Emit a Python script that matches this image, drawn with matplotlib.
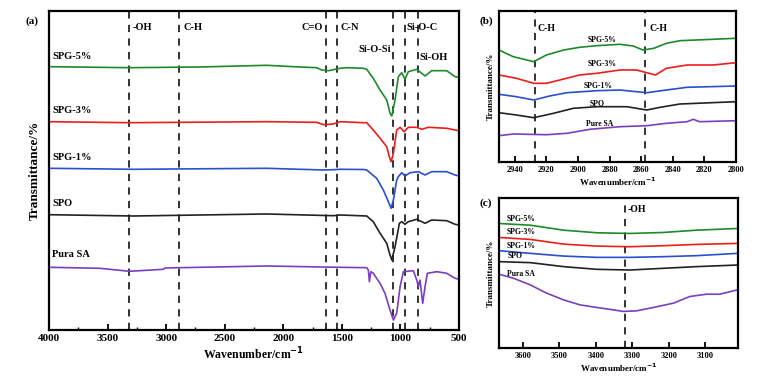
import matplotlib
matplotlib.use("Agg")
import matplotlib.pyplot as plt
from matplotlib.ticker import MultipleLocator

plt.rcParams['font.family'] = ['Liberation Serif', 'DejaVu Serif']
plt.rcParams['font.weight'] = 'bold'

# ---------------- Panel (a) data ----------------
a_names = ["SPG-5%", "SPG-3%", "SPG-1%", "SPO", "Pura SA"]
a_colors = ["#1f8a2a", "#ee1c1c", "#2a4fd0", "#222222", "#7a3fc0"]

a_w_green = [4000, 3314, 2711, 2142, 1857, 1715, 1672, 1615, 1559, 1516, 1459, 1317, 1288, 1232, 1174, 1117,
             1089, 1074, 1046, 1018, 989, 961, 933, 861, 790, 733, 605, 534, 500]
a_v_green = [263.3, 262.3, 263, 264.7, 263, 262.3, 260, 259.3, 260.7, 261.7, 262.3, 261.7, 260.7, 251.7, 240, 230,
             216.7, 214, 230, 253.3, 257.3, 250.7, 258.3, 260.7, 254, 259.3, 259.3, 253.3, 252.7]

a_w_red = [4000, 3314, 2142, 1715, 1658, 1573, 1516, 1317, 1288, 1232, 1174, 1117, 1095, 1080, 1060, 1032,
           1003, 969, 933, 861, 818, 762, 605, 534, 500]
a_v_red = [208.3, 207.3, 208.3, 207.7, 205.3, 206, 208.3, 207.3, 207.3, 200, 191.7, 183.3, 173.3, 168.3, 176.7, 200,
           202.7, 198.3, 202.7, 202.7, 200.7, 202.7, 201.7, 200, 199.3]

a_w_blue = [4000, 3280, 2142, 1658, 1573, 1516, 1317, 1288, 1203, 1146, 1103, 1080, 1060, 1032, 1018, 989,
            961, 918, 847, 790, 733, 605, 534, 500]
a_v_blue = [161.7, 160.7, 161.7, 160, 160.3, 160.7, 160.5, 160, 151.7, 140, 128.3, 121.7, 130, 150, 153.3, 157.3,
            154, 157.3, 158.3, 155, 158.3, 158.3, 155, 154]

a_w_black = [4000, 3280, 2142, 1573, 1516, 1288, 1232, 1174, 1117, 1089, 1074, 1046, 1009, 989, 961, 933,
             861, 790, 733, 605, 534, 500]
a_v_black = [115.3, 114, 116, 114.3, 115, 114, 108.3, 96.7, 86.7, 75, 70, 83.3, 106.7, 108.3, 105.7, 108.3,
             110.7, 106.7, 110, 109.3, 105.7, 105]

a_w_purple = [4000, 3565, 3314, 3024, 3010, 2142, 1516, 1288, 1274, 1265, 1253, 1232, 1174, 1132, 1089, 1060,
              1032, 1003, 975, 890, 861, 847, 833, 810, 790, 770, 690, 605, 534, 500]
a_v_purple = [62.7, 61.7, 58.7, 60.7, 62, 64, 62.7, 62.3, 60, 48.3, 58.3, 56.7, 46.7, 36.7, 20, 10,
              16.7, 43.3, 58.3, 59.3, 50, 43.3, 50, 26.7, 43.3, 56.7, 58.3, 56.7, 51.7, 50.7]

a_dash = [3315, 2890, 1635, 1544, 1066, 964, 853]
a_band_labels = ["-OH", "C-H", "C=O", "C-N", "Si-O-Si", "Si-O-C", "Si-OH"]

# ---------------- Panel (b) data ----------------
b_names = ["SPG-5%", "SPG-3%", "SPG-1%", "SPO", "Pure SA"]
b_w_green = [2950, 2941, 2928, 2920, 2909, 2899, 2888, 2873.5, 2865, 2859, 2852, 2844, 2835.5, 2814.5, 2800]
b_v_green = [112, 105.3, 100.3, 107, 112, 114.7, 116.3, 117.7, 116, 112, 113.7, 118.7, 121.3, 122.7, 123.7]
b_w_red = [2950, 2939, 2928, 2920, 2911.5, 2899, 2888, 2873.5, 2863, 2856.5, 2851, 2844, 2831, 2814.5, 2800]
b_v_red = [87, 83.7, 78.7, 78.7, 82, 87, 88.7, 92, 92, 89.3, 87, 93.7, 97, 97, 99.3]
b_w_blue = [2950, 2939, 2928, 2918, 2907, 2888, 2873.5, 2863, 2856.5, 2844, 2831, 2800]
b_v_blue = [67.7, 65.3, 62, 66, 69.3, 71.3, 72, 70.3, 69.3, 72, 74.7, 76]
b_w_black = [2950, 2939, 2928, 2915.5, 2903, 2888, 2869, 2863, 2856.5, 2848, 2835.5, 2800]
b_v_black = [49.3, 47, 44.3, 48.7, 53.7, 55.3, 55.3, 53.7, 52, 54.7, 58, 60.3]
b_w_purple = [2950, 2941, 2920, 2907, 2892.5, 2873.5, 2856.5, 2844, 2831, 2827, 2823, 2800]
b_v_purple = [26.3, 28, 27.3, 28.7, 32.7, 35.3, 36.3, 38.7, 40.3, 42.7, 40.3, 41.3]
b_dash = [2927.5, 2857.5]

# ---------------- Panel (c) data ----------------
c_names = ["SPG-5%", "SPG-3%", "SPG-1%", "SPO", "Pura SA"]
c_w = [3664, 3579, 3488, 3397, 3306, 3215, 3124, 3012]
c_v_green = [125, 123.3, 118.3, 115.7, 115, 116, 118.3, 120]
c_v_red = [111, 109, 104.3, 102.3, 101.7, 102.7, 104, 105]
c_v_blue = [97.7, 95, 92.3, 91, 91, 91.7, 92.7, 95]
c_v_black = [86.7, 85.7, 81.7, 79, 78.3, 80, 81.7, 83.3]
c_w_purple = [3664, 3625, 3579, 3534, 3488, 3443, 3397, 3352, 3324, 3288, 3242, 3187, 3142, 3096, 3060, 3012]
c_v_purple = [74, 70, 63.3, 55, 48.3, 43.3, 40.7, 38.3, 36.7, 37.3, 40.7, 45, 51.7, 54, 54, 58.3]
c_dash = [3320]

fig = plt.figure(figsize=(7.63, 3.83), dpi=100)

def style_axes(ax, fs):
    for s in ax.spines.values():
        s.set_linewidth(1.6)
    ax.set_yticks([])
    ax.tick_params(axis='x', direction='in', labelsize=fs, width=1.3, length=4, pad=3)
    ax.tick_params(axis='x', which='minor', direction='in', width=1.0, length=2.5)
    for lab in ax.get_xticklabels():
        lab.set_fontweight('bold')

lw = 1.2
dash_kw = dict(color='#222222', lw=1.3, ls=(0, (4, 3.5)), zorder=1)

# ----- (a) -----
axa = fig.add_axes([0.0642, 0.1384, 0.5374, 0.8329])
a_ws = [a_w_green, a_w_red, a_w_blue, a_w_black, a_w_purple]
a_vs = [a_v_green, a_v_red, a_v_blue, a_v_black, a_v_purple]
for w, v, c in zip(a_ws, a_vs, a_colors):
    axa.plot(w, v, color=c, lw=lw, zorder=2)
for d in a_dash:
    axa.axvline(d, **dash_kw)
axa.set_xlim(4000, 500)
axa.set_ylim(0, 319)
axa.xaxis.set_major_locator(MultipleLocator(500))
axa.xaxis.set_minor_locator(MultipleLocator(250))
style_axes(axa, 8)
axa.set_xlabel("Wavenumber/cm$^{\\mathbf{-1}}$", fontsize=8.5, fontweight='bold', labelpad=2)
axa.set_ylabel("Transmittance/%", fontsize=9.5, fontweight='bold', labelpad=6)
name_y = [269, 215, 168, 122, 71]
for n, y in zip(a_names, name_y):
    axa.text(3970, y, n, fontsize=7.5, fontweight='bold', ha='left', va='bottom')
band_pos = [(3290, 302, 'left'), (2850, 302, 'left'), (1660, 302, 'right'), (1515, 302, 'left'),
            (1085, 280, 'right'), (950, 302, 'left'), (840, 272, 'left')]
for (x, y, ha), t in zip(band_pos, a_band_labels):
    axa.text(x, y, t, fontsize=7.5, fontweight='bold', ha=ha, va='center')
fig.text(0.034, 0.945, "(a)", fontsize=8, fontweight='bold', ha='left', va='center')

# ----- (b) -----
axb = fig.add_axes([0.654, 0.577, 0.3106, 0.3943])
b_ws = [b_w_green, b_w_red, b_w_blue, b_w_black, b_w_purple]
b_vs = [b_v_green, b_v_red, b_v_blue, b_v_black, b_v_purple]
for w, v, c in zip(b_ws, b_vs, a_colors):
    axb.plot(w, v, color=c, lw=lw, zorder=2)
for d in b_dash:
    axb.axvline(d, **dash_kw)
axb.set_xlim(2950, 2800)
axb.set_ylim(0, 151)
axb.xaxis.set_major_locator(MultipleLocator(20))
style_axes(axb, 6)
axb.set_xlabel("Wavenumber/cm$^{\\mathbf{-1}}$", fontsize=6.5, fontweight='bold', labelpad=1)
axb.set_ylabel("Transmittance/%", fontsize=6.5, fontweight='bold', labelpad=3)
b_lab = [(2885, 121.5), (2885, 97.5), (2887, 76.5), (2888, 58.5), (2886, 38.5)]
for n, (x, y) in zip(b_names, b_lab):
    axb.text(x, y, n, fontsize=5.5, fontweight='bold', ha='center', va='center')
axb.text(2925.5, 133, "C-H", fontsize=7, fontweight='bold', ha='left', va='center')
axb.text(2854.5, 133, "C-H", fontsize=7, fontweight='bold', ha='left', va='center')
fig.text(0.629, 0.945, "(b)", fontsize=8, fontweight='bold', ha='left', va='center')

# ----- (c) -----
axc = fig.add_axes([0.654, 0.0914, 0.3132, 0.3916])
c_ws = [c_w, c_w, c_w, c_w, c_w_purple]
c_vs = [c_v_green, c_v_red, c_v_blue, c_v_black, c_v_purple]
for w, v, c in zip(c_ws, c_vs, a_colors):
    axc.plot(w, v, color=c, lw=lw, zorder=2)
for d in c_dash:
    axc.axvline(d, **dash_kw)
axc.set_xlim(3665, 3010)
axc.set_ylim(0, 150.6)
axc.xaxis.set_major_locator(MultipleLocator(100))
style_axes(axc, 6)
axc.set_xlabel("Wavenumber/cm$^{\\mathbf{-1}}$", fontsize=6.5, fontweight='bold', labelpad=1)
axc.set_ylabel("Transmittance/%", fontsize=6.5, fontweight='bold', labelpad=3)
c_lab = [(3645, 130), (3645, 116.5), (3643, 102.5), (3640, 92.5), (3642, 74.5)]
for n, (x, y) in zip(c_names, c_lab):
    axc.text(x, y, n, fontsize=5.5, fontweight='bold', ha='left', va='center')
axc.text(3313, 139.5, "-OH", fontsize=7, fontweight='bold', ha='left', va='center')
fig.text(0.629, 0.47, "(c)", fontsize=8, fontweight='bold', ha='left', va='center')

fig.savefig("out.png", dpi=100)
